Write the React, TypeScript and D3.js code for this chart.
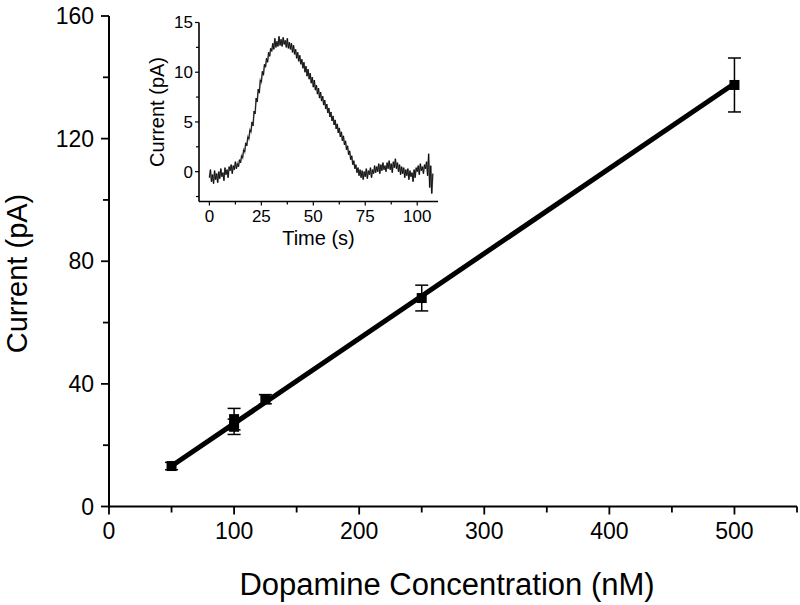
import React from "react"
import * as d3 from "d3"

const width = 800
const height = 605
const font = "'Liberation Sans', Arial, sans-serif"

// main calibration data
const concentration = [50, 100, 100, 125, 250, 500]
const current = [13.2, 28.5, 26, 35, 68, 137.5]
const currentErr = [1.2, 3.5, 2.5, 1.5, 4.2, 8.8]
const fitX = [50, 500]
const fitY = [13.2, 138]
const xTicks = [0, 100, 200, 300, 400, 500]
const yTicks = [0, 40, 80, 120, 160]

// inset trace, one value every 0.5 s
const traceStep = 0.5
const trace = [
  -0.6, 0.2, -1.0, -0.3, -1.2, 0.1, -0.8, -0.2, -1.1, 0.0,
  -0.7, 0.3, -0.5, -0.1, -0.9, 0.4, -0.3, 0.2, -0.6, 0.5,
  0.1, 0.7, -0.2, 0.6, 0.2, 1.0, 0.3, 0.8, 0.5, 1.2,
  0.9, 1.6, 1.4, 2.2, 2.0, 2.9, 2.6, 3.5, 3.3, 4.2,
  4.0, 5.0, 4.6, 6.1, 5.8, 7.4, 7.0, 8.3, 7.9, 9.2,
  9.0, 10.1, 9.7, 10.8, 10.5, 11.4, 11.0, 12.0, 11.6, 12.4,
  12.1, 12.9, 12.3, 13.4, 12.5, 13.1, 12.6, 13.6, 12.7, 13.3,
  12.6, 13.5, 12.8, 13.2, 12.5, 13.4, 12.4, 13.0, 12.3, 12.9,
  12.0, 12.7, 11.8, 12.3, 11.4, 12.0, 11.1, 11.7, 10.8, 11.3,
  10.4, 11.0, 10.0, 10.6, 9.6, 10.3, 9.3, 9.9, 8.9, 9.5,
  8.5, 9.2, 8.2, 8.7, 7.8, 8.4, 7.4, 8.0, 7.1, 7.6,
  6.7, 7.2, 6.3, 6.8, 5.9, 6.4, 5.5, 6.0, 5.1, 5.6,
  4.7, 5.2, 4.3, 4.8, 3.9, 4.4, 3.5, 4.0, 3.1, 3.6,
  2.7, 3.1, 2.2, 2.6, 1.7, 2.1, 1.2, 1.6, 0.7, 1.1,
  0.3, 0.7, -0.1, 0.4, -0.4, 0.2, -0.6, 0.1, -0.8, 0.0,
  -0.5, 0.3, -0.7, 0.1, -0.3, 0.4, -0.6, 0.2, -0.2, 0.6,
  -0.1, 0.5, 0.0, 0.8, -0.2, 0.7, 0.1, 0.9, 0.2, 0.6,
  0.0, 0.9, 0.3, 1.1, 0.2, 0.8, -0.1, 1.0, 0.4, 1.3,
  0.3, 0.9, 0.0, 0.7, -0.3, 0.5, -0.2, 0.4, -0.6, 0.2,
  -0.4, 0.3, -0.8, 0.1, -0.5, -0.1, -1.0, 0.2, -0.6, 0.4,
  0.0, 0.6, -0.3, 0.8, 0.1, 0.5, -0.2, 0.7, 0.3, 1.0,
  -0.4, 1.8, -1.6, 0.6, -2.2, -0.2,
]
const insetXTicks = [0, 25, 50, 75, 100]
const insetYTicks = [0, 5, 10, 15]

const x = d3.scaleLinear().domain([0, 550]).range([109, 797])
const y = d3.scaleLinear().domain([0, 160]).range([506.5, 16])

const ix = d3.scaleLinear().domain([-5, 110]).range([199, 438])
const iy = d3.scaleLinear().domain([-3, 15]).range([201.5, 22.5])

const fitLine = d3.line<number>().x((d, i) => x(fitX[i])).y(d => y(d))
const traceLine = d3.line<number>().x((d, i) => ix(i * traceStep)).y(d => iy(d))

const Inset = () => {
  const xMinor = d3.range(0, 110, 12.5)
  const yMinor = d3.range(-2.5, 15.1, 2.5)
  return (
    <g>
      <path d={traceLine(trace) || ""} fill="none" stroke="#333" strokeWidth={1.6} opacity={0.6} />
      <path d={traceLine(trace) || ""} fill="none" stroke="#000" strokeWidth={0.8} />
      <line x1={ix(-5)} x2={ix(110)} y1={iy(-3)} y2={iy(-3)} stroke="black" strokeWidth={1.6} />
      <line x1={ix(-5)} x2={ix(-5)} y1={iy(-3)} y2={iy(15)} stroke="black" strokeWidth={1.6} />
      {xMinor.map(t => (
        <line key={"ixm" + t} x1={ix(t)} x2={ix(t)} y1={iy(-3)} y2={iy(-3) + (t % 25 === 0 ? 4 : 3)} stroke="black" strokeWidth={1.2} />
      ))}
      {yMinor.map(t => (
        <line key={"iym" + t} x1={ix(-5)} x2={ix(-5) - (t % 5 === 0 ? 4 : 3)} y1={iy(t)} y2={iy(t)} stroke="black" strokeWidth={1.2} />
      ))}
      {insetXTicks.map(t => (
        <text key={"ixt" + t} x={ix(t)} y={222} textAnchor="middle" fontSize={17} fontFamily={font}>{t}</text>
      ))}
      {insetYTicks.map(t => (
        <text key={"iyt" + t} x={193} y={iy(t)} dy="0.35em" textAnchor="end" fontSize={17} fontFamily={font}>{t}</text>
      ))}
      <text x={ix(52.5)} y={245} textAnchor="middle" fontSize={20} fontFamily={font}>Time (s)</text>
      <text transform={`translate(164,${iy(6)}) rotate(-90)`} textAnchor="middle" fontSize={20} fontFamily={font}>Current (pA)</text>
    </g>
  )
}

const App = () => {
  const xMinor = d3.range(0, 551, 50)
  const yMinor = d3.range(0, 161, 20)
  return (
    <svg width={width} height={height} style={{ position: "absolute", left: 0, top: 0, background: "white" }}>
      {/* axes */}
      <line x1={x(0) - 1} x2={x(550)} y1={y(0)} y2={y(0)} stroke="black" strokeWidth={2} />
      <line x1={x(0)} x2={x(0)} y1={y(0) + 1} y2={y(160)} stroke="black" strokeWidth={2} />
      {xMinor.map(t => (
        <line key={"xm" + t} x1={x(t)} x2={x(t)} y1={y(0)} y2={y(0) + (t % 100 === 0 ? 8 : 6)} stroke="black" strokeWidth={1.8} />
      ))}
      {yMinor.map(t => (
        <line key={"ym" + t} x1={x(0)} x2={x(0) - (t % 40 === 0 ? 8 : 6)} y1={y(t)} y2={y(t)} stroke="black" strokeWidth={1.8} />
      ))}
      {xTicks.map(t => (
        <text key={"xt" + t} x={x(t)} y={y(0) + 32} textAnchor="middle" fontSize={23} fontFamily={font}>{t}</text>
      ))}
      {yTicks.map(t => (
        <text key={"yt" + t} x={x(0) - 15} y={y(t)} dy="0.35em" textAnchor="end" fontSize={23} fontFamily={font}>{t}</text>
      ))}
      <text x={447} y={595} textAnchor="middle" fontSize={31} fontFamily={font}>Dopamine Concentration (nM)</text>
      <text transform={`translate(27,${y(76)}) rotate(-90)`} textAnchor="middle" fontSize={29} fontFamily={font}>Current (pA)</text>

      {/* fit */}
      <path d={fitLine(fitY) || ""} fill="none" stroke="black" strokeWidth={5} />

      {/* error bars and markers */}
      {concentration.map((c, i) => {
        const cx = x(c)
        const top = y(current[i] + currentErr[i])
        const bot = y(current[i] - currentErr[i])
        return (
          <g key={"pt" + i}>
            <line x1={cx} x2={cx} y1={top} y2={bot} stroke="black" strokeWidth={1.5} />
            <line x1={cx - 6.5} x2={cx + 6.5} y1={top} y2={top} stroke="black" strokeWidth={1.5} />
            <line x1={cx - 6.5} x2={cx + 6.5} y1={bot} y2={bot} stroke="black" strokeWidth={1.5} />
            <rect x={cx - 5} y={y(current[i]) - 5} width={10} height={10} fill="black" />
          </g>
        )
      })}

      <Inset />
    </svg>
  )
}

export default App
